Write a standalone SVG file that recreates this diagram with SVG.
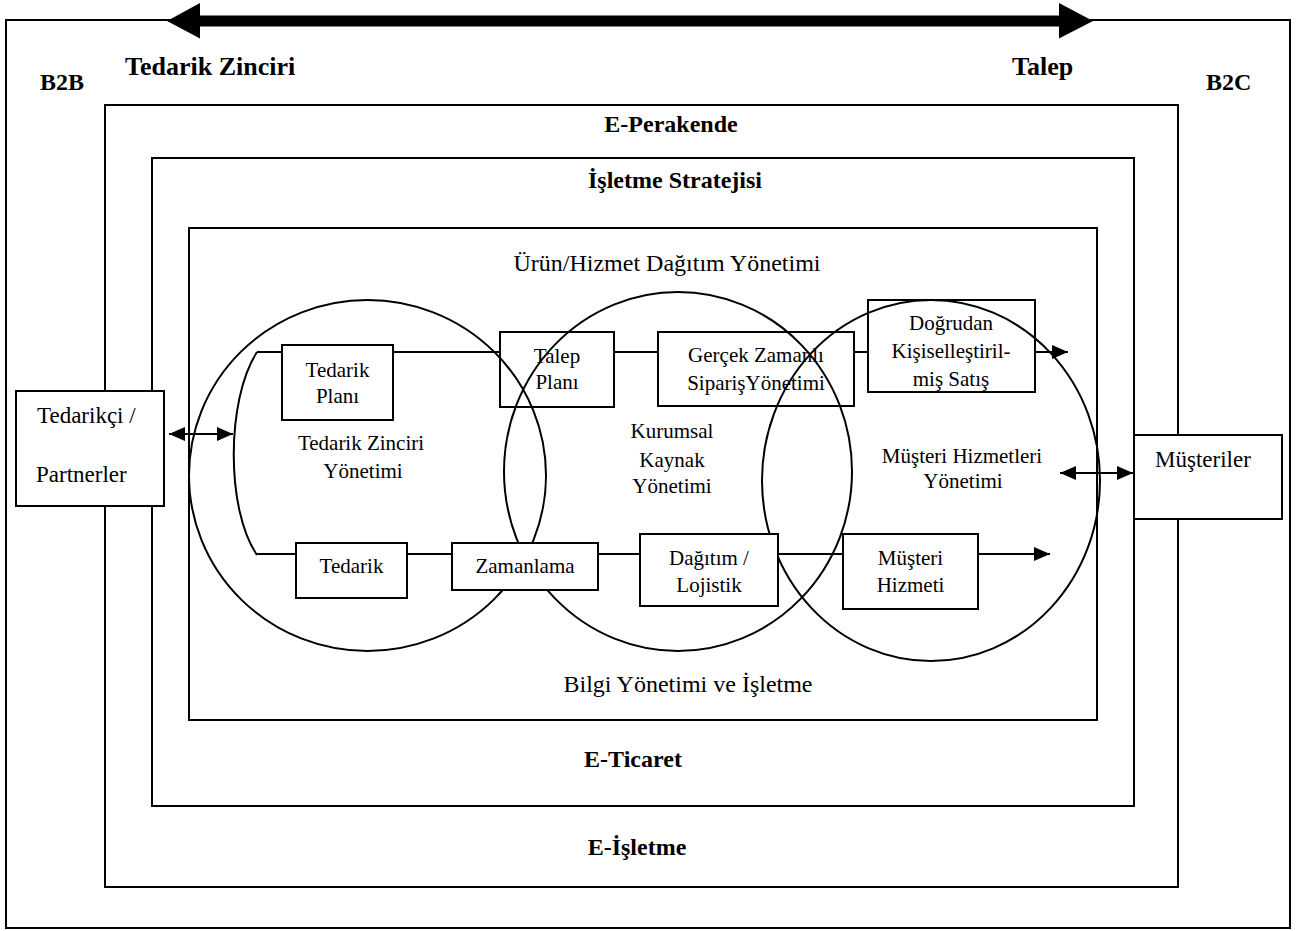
<svg xmlns="http://www.w3.org/2000/svg" width="1297" height="931" viewBox="0 0 1297 931">
  <defs>
    <marker id="head" markerUnits="userSpaceOnUse" markerWidth="16" markerHeight="14" refX="16" refY="7" orient="auto-start-reverse">
      <path d="M0,0 L16,7 L0,14 Z" fill="#000"/>
    </marker>
  </defs>
  <style>
    text { font-family: "Liberation Serif", "Times New Roman", serif; fill: #000; }
    .b { font-weight: bold; font-size: 24px; }
    .big { font-weight: bold; font-size: 26px; }
    .lbl { font-size: 21px; text-anchor: middle; }
    .frame { fill: none; stroke: #000; stroke-width: 2; }
    .box { fill: none; stroke: #000; stroke-width: 2; }
    .solid { fill: #fff; stroke: #000; stroke-width: 2; }
    .ring { fill: none; stroke: #000; stroke-width: 2; }
    .link { fill: none; stroke: #000; stroke-width: 2; }
    .c { text-anchor: middle; }
  </style>

  <rect width="1297" height="931" fill="#fff"/>

  <!-- nested frames -->
  <g id="frames">
    <rect class="frame" x="6" y="20" width="1284" height="908"/>
    <rect class="frame" x="105" y="105" width="1073" height="782"/>
    <rect class="frame" x="152" y="158" width="982" height="648"/>
    <rect class="frame" x="189" y="228" width="908" height="492"/>
  </g>

  <!-- supply / demand double arrow -->
  <g id="flow-arrow">
    <path d="M167,21 L200,3 L200,15.5 L1059,15.5 L1059,3 L1093,21 L1059,38.5 L1059,26.5 L200,26.5 L200,38.5 Z" fill="#000"/>
  </g>

  <g id="headings">
    <text class="big" x="125" y="75">Tedarik Zinciri</text>
    <text class="big" x="1012" y="75">Talep</text>
    <text class="b" x="40" y="90">B2B</text>
    <text class="b" x="1206" y="90">B2C</text>
    <text class="b c" x="671" y="132">E-Perakende</text>
    <text class="b c" x="675" y="188">İşletme Stratejisi</text>
    <text class="c" x="667" y="271" font-size="24">Ürün/Hizmet Dağıtım Yönetimi</text>
    <text class="c" x="688" y="692" font-size="24">Bilgi Yönetimi ve İşletme</text>
    <text class="b c" x="633" y="767">E-Ticaret</text>
    <text class="b c" x="637" y="855">E-İşletme</text>
  </g>

  <!-- management areas -->
  <g id="areas">
    <ellipse class="ring" cx="367.5" cy="475.5" rx="178.5" ry="175.5"/>
    <ellipse class="ring" cx="678" cy="471.5" rx="174" ry="179.5"/>
    <ellipse class="ring" cx="931" cy="480.5" rx="169" ry="180.5"/>
    <text class="lbl" x="361" y="450">Tedarik Zinciri</text>
    <text class="lbl" x="363" y="478">Yönetimi</text>
    <text class="lbl" x="672" y="438">Kurumsal</text>
    <text class="lbl" x="672" y="467">Kaynak</text>
    <text class="lbl" x="672" y="493">Yönetimi</text>
    <text class="lbl" x="962" y="463">Müşteri Hizmetleri</text>
    <text class="lbl" x="963" y="488">Yönetimi</text>
  </g>

  <g id="connectors">
    <path class="link" d="M257,352 C226,400 226,510 257,555"/>
    <path class="link" d="M257,352 H282 M393,352 H500 M614,352 H658 M854,352 H868"/>
    <line class="link" x1="1035" y1="352" x2="1068" y2="352" marker-end="url(#head)"/>
    <path class="link" d="M257,554 H296 M407,554 H452 M598,554 H640 M778,554 H843"/>
    <line class="link" x1="978" y1="554" x2="1050" y2="554" marker-end="url(#head)"/>
    <line class="link" x1="169" y1="434" x2="233" y2="434" marker-start="url(#head)" marker-end="url(#head)"/>
    <line class="link" x1="1060" y1="473" x2="1133" y2="473" marker-start="url(#head)" marker-end="url(#head)"/>
  </g>

  <g id="tedarikci">
    <rect class="solid" x="16" y="391" width="148" height="115"/>
    <text x="37" y="423" font-size="23">Tedarikçi /</text>
    <text x="36" y="482" font-size="23">Partnerler</text>
  </g>

  <g id="musteriler">
    <rect class="solid" x="1134" y="435" width="148" height="84"/>
    <text x="1155" y="467" font-size="23">Müşteriler</text>
  </g>

  <g id="tedarik-plani">
    <rect class="box" x="282" y="345" width="111" height="75"/>
    <text class="lbl" x="337.5" y="377">Tedarik</text>
    <text class="lbl" x="337.5" y="403">Planı</text>
  </g>

  <g id="talep-plani">
    <rect class="box" x="500" y="332" width="114" height="75"/>
    <text class="lbl" x="557" y="363">Talep</text>
    <text class="lbl" x="557" y="389">Planı</text>
  </g>

  <g id="siparis">
    <rect class="box" x="658" y="332" width="196" height="74"/>
    <text class="lbl" x="756" y="362">Gerçek Zamanlı</text>
    <text class="lbl" x="756" y="390">SiparişYönetimi</text>
  </g>

  <g id="dogrudan-satis">
    <rect class="box" x="868" y="300" width="167" height="92"/>
    <text class="lbl" x="951" y="330">Doğrudan</text>
    <text class="lbl" x="951" y="358">Kişiselleştiril-</text>
    <text class="lbl" x="951" y="386">miş Satış</text>
  </g>

  <g id="tedarik">
    <rect class="solid" x="296" y="543" width="111" height="55"/>
    <text class="lbl" x="351.5" y="573">Tedarik</text>
  </g>

  <g id="zamanlama">
    <rect class="solid" x="452" y="543" width="146" height="47"/>
    <text class="lbl" x="525" y="573">Zamanlama</text>
  </g>

  <g id="dagitim">
    <rect class="solid" x="640" y="534" width="138" height="72"/>
    <text class="lbl" x="709" y="565">Dağıtım /</text>
    <text class="lbl" x="709" y="592">Lojistik</text>
  </g>

  <g id="musteri-hizmeti">
    <rect class="solid" x="843" y="534" width="135" height="75"/>
    <text class="lbl" x="910.5" y="565">Müşteri</text>
    <text class="lbl" x="910.5" y="592">Hizmeti</text>
  </g>
</svg>
